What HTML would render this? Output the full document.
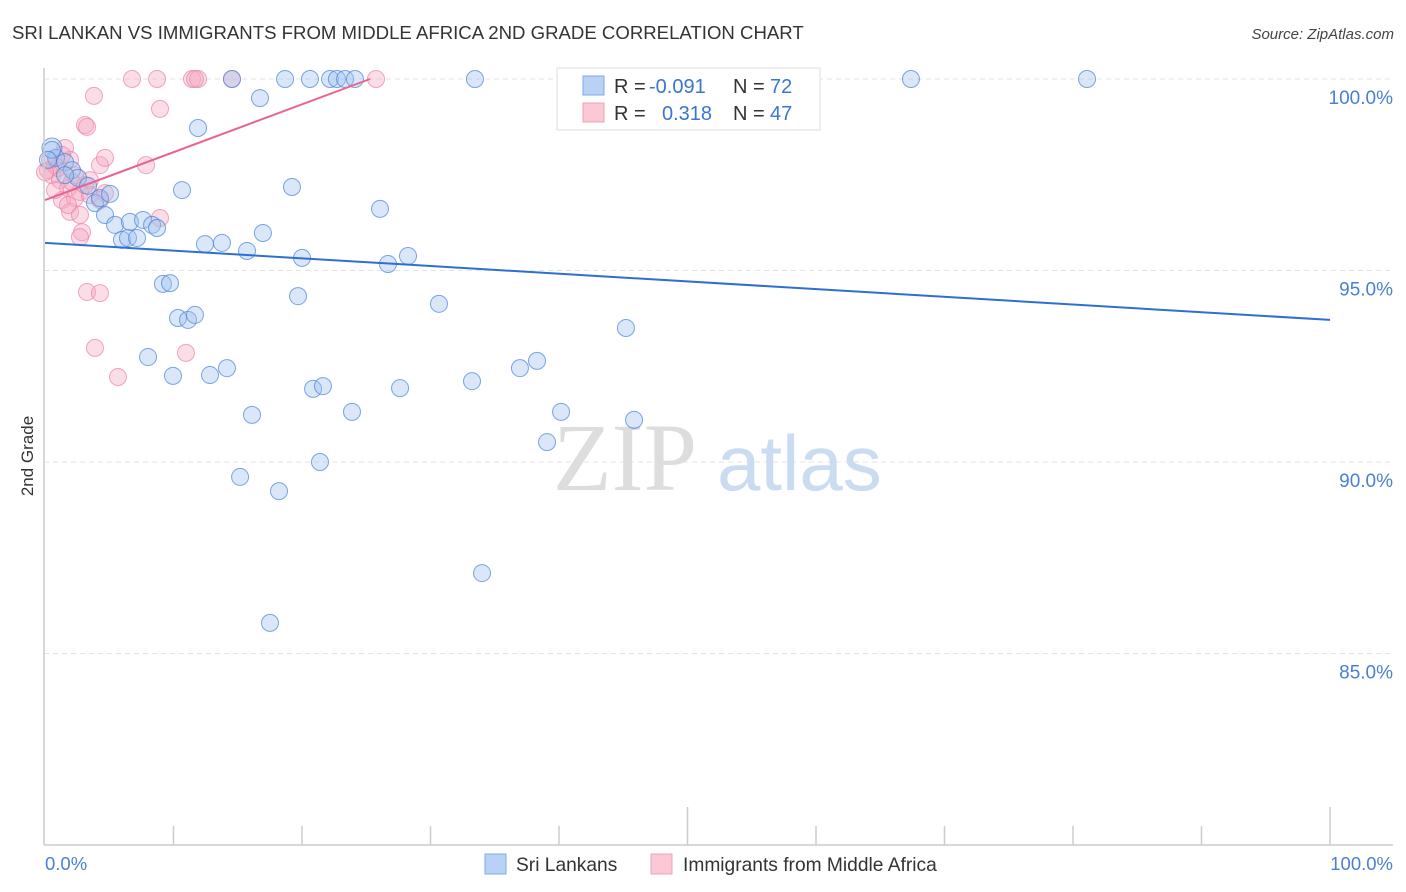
<!DOCTYPE html>
<html><head><meta charset="utf-8"><style>
body{margin:0;background:#fff;font-family:"Liberation Sans",sans-serif}
svg{display:block}
</style></head><body>
<svg id="chart" width="1406" height="892" xmlns="http://www.w3.org/2000/svg">
<text x="12" y="39" font-size="18.6" fill="#333">SRI LANKAN VS IMMIGRANTS FROM MIDDLE AFRICA 2ND GRADE CORRELATION CHART</text>
<text x="1394" y="39" font-size="15" fill="#444" font-style="italic" text-anchor="end">Source: ZipAtlas.com</text>
<text transform="translate(33,456) rotate(-90)" font-size="17" fill="#333" text-anchor="middle">2nd Grade</text>
<g id="grid"></g>
<g id="wm">
<text x="553" y="490" font-size="96" font-family="Liberation Serif,serif" fill="#ddd">ZIP</text>
<text x="717" y="490" font-size="78" fill="#c9dcf2">atlas</text>
</g>
<g id="pts"></g>
<g id="lines"></g>
<line x1="44" y1="68" x2="44" y2="845" stroke="#ccc" stroke-width="1.5"/>
<line x1="44" y1="845" x2="1393" y2="845" stroke="#ccc" stroke-width="1.5"/>
<g id="ticks"></g>
<text x="45" y="870" font-size="18.5" fill="#4a7fd4">0.0%</text>
<text x="1393" y="870" font-size="18.5" fill="#4a7fd4" text-anchor="end">100.0%</text>
<g>
<rect x="557" y="68" width="263" height="62" fill="#fff" stroke="#ddd"/>
<rect x="583" y="76" width="21" height="19" fill="#b8d2f5" stroke="#7fa9e6"/>
<rect x="583" y="103" width="21" height="19" fill="#fbc8d6" stroke="#f0a0b8"/>
<text x="614" y="93" font-size="20" fill="#333">R = <tspan x="649" fill="#3a75d1">-0.091</tspan><tspan x="733">N = </tspan><tspan x="770" fill="#3a75d1">72</tspan></text>
<text x="614" y="120" font-size="20" fill="#333">R = <tspan x="662" fill="#3a75d1">0.318</tspan><tspan x="733">N = </tspan><tspan x="770" fill="#3a75d1">47</tspan></text>
</g>
<g>
<rect x="485" y="854" width="21" height="20" fill="#b8d2f5" stroke="#7fa9e6"/>
<text x="516" y="871" font-size="19.2" fill="#333">Sri Lankans</text>
<rect x="651" y="854" width="21" height="20" fill="#fbc8d6" stroke="#f0a0b8"/>
<text x="683" y="871" font-size="19.2" fill="#333">Immigrants from Middle Africa</text>
</g>
</svg>
<script>
const yTicks=[100,95,90,85];
const yTickLabels=["100.0%","95.0%","90.0%","85.0%"];
const xTicks=[0,10,20,30,40,50,60,70,80,90,100];
const blueX=[0.54,0.86,1.56,2.1,2.57,3.35,3.89,4.28,5.06,4.67,5.45,5.99,6.46,6.61,7.16,7.63,8.33,8.72,10.66,11.91,14.55,16.73,18.68,20.62,22.18,22.72,23.35,24.12,33.46,41.63,67.39,81.09,19.22,26.07,16.96,12.45,13.77,15.72,20.0,26.69,28.25,9.18,9.73,19.69,10.35,11.13,11.67,30.66,45.21,8.02,9.96,12.84,14.16,20.86,21.63,27.63,33.23,36.96,38.29,16.11,23.89,40.16,45.84,39.07,21.4,15.18,18.21,34.01,17.51,0.54,1.56,0.23];
const blueY=[98.2,97.94,97.83,97.62,97.42,97.21,96.76,96.89,97.0,96.45,96.19,95.8,95.85,96.27,95.85,96.32,96.19,96.11,97.1,98.72,100,99.5,100,100,100,100,100,100,100,100,100,100,97.18,96.61,95.98,95.69,95.72,95.51,95.33,95.17,95.38,94.65,94.67,94.33,93.76,93.71,93.84,94.13,93.5,92.74,92.25,92.27,92.45,91.91,91.98,91.93,92.11,92.45,92.64,91.23,91.31,91.31,91.1,90.52,90.0,89.61,89.24,87.1,85.8,98.15,97.49,97.89];
const pinkX=[6.77,8.72,11.44,11.91,11.67,14.55,25.76,3.81,8.95,3.11,3.27,1.56,1.95,0.78,0.23,0.54,1.17,4.28,4.67,7.86,2.33,3.5,1.79,2.72,4.67,1.32,2.33,3.5,1.95,2.72,8.95,2.88,2.72,3.27,4.28,3.89,10.97,5.68,0.39,1.01,0,1.32,2.1,3.11,0.78,4.28,1.79];
const pinkY=[100,100,100,100,100,100,100,99.56,99.22,98.8,98.75,98.2,97.89,97.75,97.62,97.49,97.36,97.75,97.94,97.75,97.49,97.36,97.15,97.05,97.02,96.84,96.89,96.97,96.53,96.45,96.37,96.0,95.87,94.44,94.41,92.98,92.85,92.22,97.89,97.68,97.57,98.02,97.31,97.23,97.1,96.84,96.71];
const blueTrendX=[0,100], blueTrendY=[95.72,93.71];
const pinkTrendX=[0,25.3], pinkTrendY=[96.84,100];
const NS="http://www.w3.org/2000/svg";
const xs=v=>45+v*12.85, ys=v=>79+(100-v)*38.3;
function mk(t,p,a){const e=document.createElementNS(NS,t);for(const k in a)e.setAttribute(k,a[k]);p.appendChild(e);return e;}
const grid=document.getElementById('grid');
yTicks.forEach((v,i)=>{
 const l=mk('line',grid,{x1:44,x2:1393,y1:ys(v),y2:ys(v),stroke:'#e3e3e3','stroke-dasharray':'5,4'});
 
 
 const t=mk('text',grid,{x:1393,y:ys(v)+25,'font-size':19,fill:'#4a7fd4','text-anchor':'end'});
 t.textContent=yTickLabels[i];
 
 
});
const tk=document.getElementById('ticks');
xTicks.forEach(v=>{
 const big=(v===100||v===50||v===0);
 const l=mk('line',tk,{x1:xs(v),x2:xs(v),y1:big?(v===0?845:807):826,y2:845,stroke:'#ccc','stroke-width':1.5});
 
 
});
const pts=document.getElementById('pts');
pinkX.forEach((x,i)=>{
 const c=mk('circle',pts,{cx:xs(x),cy:ys(pinkY[i]),r:8.5,fill:'rgba(246,170,195,0.4)',stroke:'rgba(236,130,165,0.7)','stroke-width':1});
 
 
});
blueX.forEach((x,i)=>{
 const c=mk('circle',pts,{cx:xs(x),cy:ys(blueY[i]),r:i===0?10:8.5,fill:'rgba(160,195,240,0.4)',stroke:'rgba(70,130,215,0.7)','stroke-width':1});
 
 
});
const ln=document.getElementById('lines');
const b=mk('line',ln,{x1:xs(blueTrendX[0]),y1:ys(blueTrendY[0]),x2:xs(blueTrendX[1]),y2:ys(blueTrendY[1]),stroke:'#2d6fd4','stroke-width':2});


const p=mk('line',ln,{x1:xs(pinkTrendX[0]),y1:ys(pinkTrendY[0]),x2:xs(pinkTrendX[1]),y2:ys(pinkTrendY[1]),stroke:'#e8648e','stroke-width':2});


</script>
</body></html>
